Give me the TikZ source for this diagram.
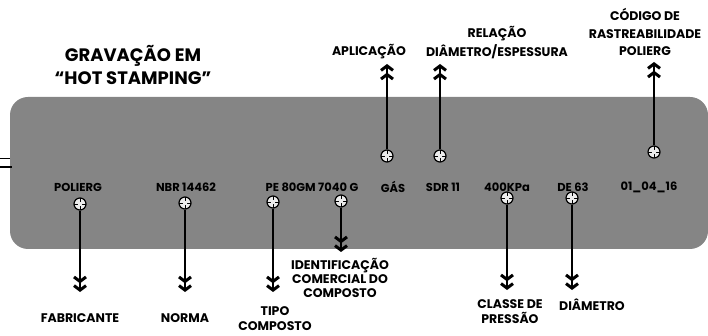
\documentclass[tikz,border=0pt]{standalone}
\usepackage{fontspec}
\setmainfont{Poppins}
\usetikzlibrary{arrows.meta}
\definecolor{bandgray}{HTML}{858585}
\tikzset{lbl/.style={font=\fontsize{12.5}{14}\selectfont\bfseries,align=center,inner sep=0pt},
 bandtxt/.style={font=\fontsize{11.5}{12}\selectfont\bfseries,inner sep=0pt},
 target/.style={circle,draw,line width=1.2pt,minimum size=12pt,inner sep=0pt,fill=gray!15,
  path picture={\draw[line width=0.7pt] (path picture bounding box.north) -- (path picture bounding box.south)
   (path picture bounding box.west) -- (path picture bounding box.east);
   \fill (path picture bounding box.center) circle (2.2pt);}},
 flow/.style={line width=1.8pt,-{Straight Barb[length=4.5pt,width=12pt,line width=3pt,sep=0.8pt]Straight Barb[length=4.5pt,width=12pt,line width=3pt]}}}

\begin{document}
\begin{tikzpicture}[x=1pt,y=-1pt]
\path[use as bounding box] (0,0) rectangle (708,336);
% tubo
\fill[bandgray,rounded corners=18pt] (10,97) rectangle (708,249);
\draw[line width=0.6pt] (0,158) -- (10,158);
\draw[line width=1.4pt] (0,167) -- (12,167);
\node[font=\fontsize{18}{23}\selectfont\bfseries,align=center,inner sep=0pt] (title) at (133,65)
 {GRAVAÇÃO EM\\“HOT STAMPING”};
% gravacao
\node[bandtxt] (t1) at (78,187) {POLIERG};
\node[bandtxt] (t2) at (186,187) {NBR 14462};
\node[bandtxt] (t3) at (312,187) {PE 80GM 7040 G};
\node[bandtxt] (t4) at (393,187) {GÁS};
\node[bandtxt] (t5) at (443,187) {SDR 11};
\node[bandtxt] (t6) at (507,187) {400KPa};
\node[bandtxt] (t7) at (573,187) {DE 63};
\node[bandtxt] (t8) at (649,187) {01\_04\_16};
% marcas
\node[target] (fab) at (80,204) {};
\node[target] (nor) at (185,203) {};
\node[target] (tip) at (273,202) {};
\node[target] (ide) at (341,201) {};
\node[target] (apl) at (387,156) {};
\node[target] (sdr) at (440,156) {};
\node[target] (cod) at (654,152) {};
\node[target] (cla) at (507,198) {};
\node[target] (dia) at (572,198) {};
% pontas
\coordinate (fabend) at (80,292);
\coordinate (norend) at (185,292);
\coordinate (tipend) at (273,292);
\coordinate (ideend) at (341,252);
\coordinate (aplend) at (387,64);
\coordinate (sdrend) at (440,64);
\coordinate (codend) at (654,62);
\coordinate (claend) at (507,290);
\coordinate (diaend) at (572,290);
\draw[flow] (fab) -- (fabend);
\draw[flow] (nor) -- (norend);
\draw[flow] (tip) -- (tipend);
\draw[flow] (ide) -- (ideend);
\draw[flow] (apl) -- (aplend);
\draw[flow] (sdr) -- (sdrend);
\draw[flow] (cod) -- (codend);
\draw[flow] (cla) -- (claend);
\draw[flow] (dia) -- (diaend);
% legendas
\node[lbl] (lfab) at (80,318) {FABRICANTE};
\node[lbl] (lnor) at (185,318) {NORMA};
\node[lbl,font=\fontsize{12.5}{15}\selectfont\bfseries] (ltip) at (275,319) {TIPO\\COMPOSTO};
\node[lbl] (lide) at (340,278) {IDENTIFICAÇÃO\\COMERCIAL DO\\COMPOSTO};
\node[lbl] (lapl) at (369,52) {APLICAÇÃO};
\node[lbl,font=\fontsize{12.5}{19}\selectfont\bfseries] (lsdr) at (497,43) {RELAÇÃO\\DIÂMETRO/ESPESSURA};
\node[lbl,font=\fontsize{12.5}{17.5}\selectfont\bfseries] (lcod) at (645,32) {CÓDIGO DE\\RASTREABILIDADE\\POLIERG};
\node[lbl,font=\fontsize{12.5}{15}\selectfont\bfseries] (lcla) at (510,312) {CLASSE DE\\PRESSÃO};
\node[lbl] (ldia) at (592,305) {DIÂMETRO};
\end{tikzpicture}
\end{document}
